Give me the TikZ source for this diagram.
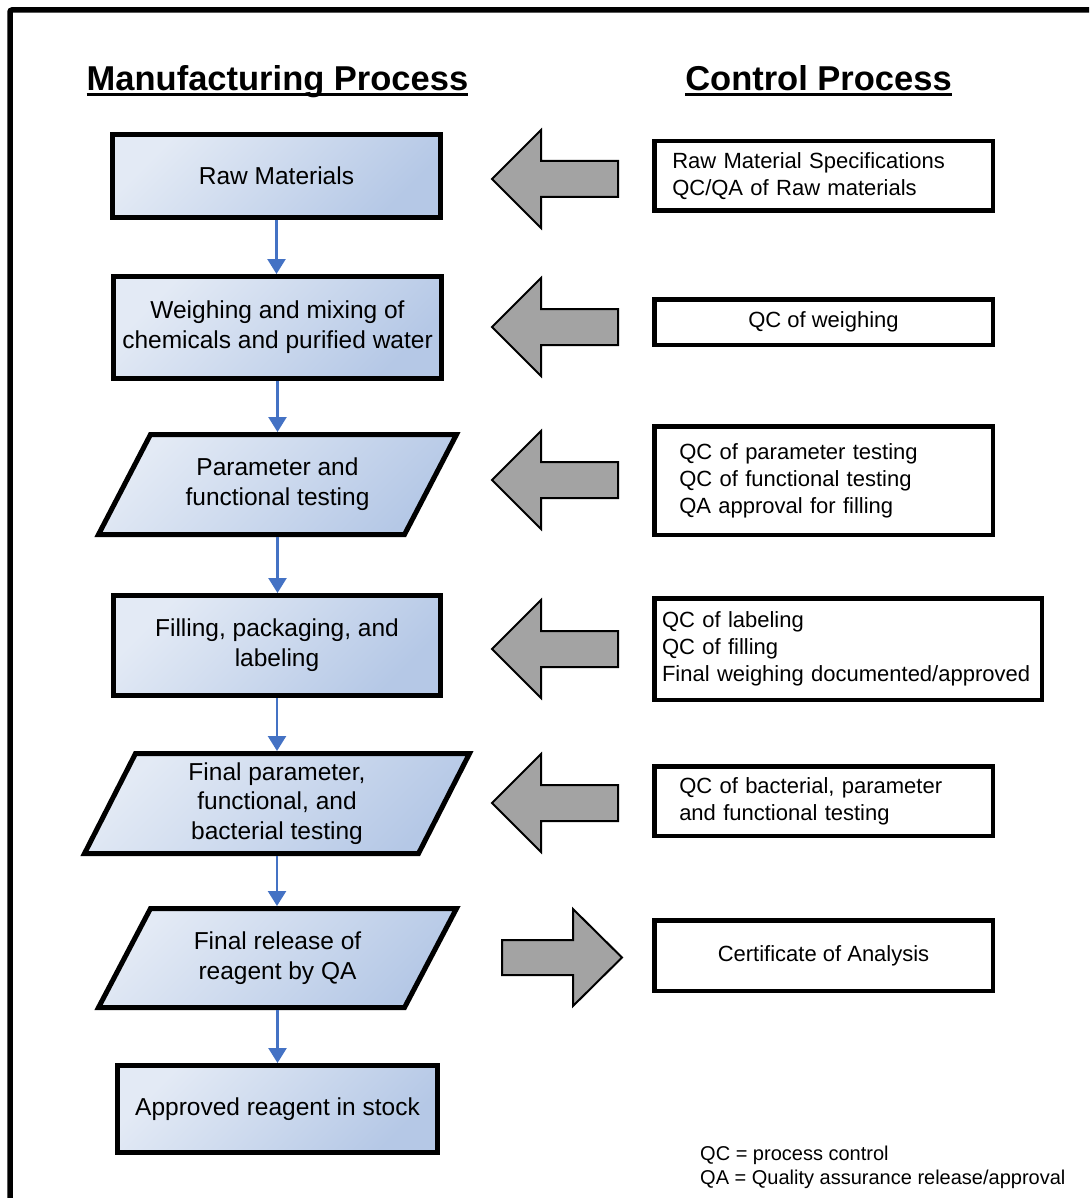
\documentclass[tikz,border=0pt]{standalone}
\usepackage{fontspec}
\setmainfont{Liberation Sans}
\usetikzlibrary{arrows.meta,calc,backgrounds}
\definecolor{gradlight}{HTML}{E3EAF5}
\definecolor{graddark}{HTML}{B5C8E6}
\definecolor{flowblue}{RGB}{68,114,196}
\definecolor{arrowgray}{HTML}{A3A3A3}
\tikzset{
  procfill/.style={draw=black, line width=5pt, left color=gradlight, right color=graddark, shading angle=45},
  procbox/.style={procfill, align=center, inner sep=0pt, font=\fontsize{24.5}{29.7}\selectfont},
  partext/.style={align=center, inner sep=0pt, outer sep=0pt, font=\fontsize{24.5}{29.7}\selectfont},
  ctrlbox/.style={draw=black, line width=4.5pt, fill=white, inner ysep=0pt, font=\fontsize{22}{27}\selectfont},
  flow/.style={draw=flowblue, line width=2.5pt, -{Triangle[width=18pt,length=15pt]}},
  garrow/.style={draw=black, line width=2pt, fill=arrowgray, line join=miter},
  titletext/.style={font=\fontsize{34.5}{40}\selectfont\bfseries, inner sep=0pt, anchor=base},
}
\begin{document}
\begin{tikzpicture}[x=1pt,y=-1pt]
\useasboundingbox (0,0) rectangle (1089,1198);
\clip (0,0) rectangle (1089,1198);
\draw[line width=5.5pt, rounded corners=2pt] (10,1230) -- (10,10) -- (1120,10);

% titles
\node[titletext] (t1) at (277.5,91) {Manufacturing Process};
\node[titletext] (t2) at (818.5,91) {Control Process};
\draw[line width=3pt] ([yshift=-4pt]t1.base west) -- ([yshift=-4pt]t1.base east);
\draw[line width=3pt] ([yshift=-4pt]t2.base west) -- ([yshift=-4pt]t2.base east);

% process column
\node[procbox, minimum width=328pt, minimum height=83pt] (r1) at (276.5,176) {Raw Materials};
\node[procbox, minimum width=328pt, minimum height=102pt] (r2) at (277.5,327.5) {Weighing and mixing of\\chemicals and purified water};
\node[partext, minimum width=306pt, minimum height=100pt] (r3) at (277.5,484.5) {Parameter and\\functional testing};
\node[procbox, minimum width=327pt, minimum height=100pt] (r4) at (277,645.5) {Filling, packaging, and\\labeling};
\node[partext, minimum width=334pt, minimum height=100pt] (r5) at (277,803.5) {Final parameter,\\functional, and\\bacterial testing};
\node[partext, minimum width=306pt, minimum height=99pt] (r6) at (277.5,958) {Final release of\\reagent by QA};
\node[procbox, minimum width=320pt, minimum height=87pt] (r7) at (277.5,1109) {Approved reagent in stock};

\begin{pgfonlayer}{background}
\fill[white] (0,0) rectangle (1089,1198);
\foreach \n/\o in {r3/26,r5/25.5,r6/26}{
  \path[procfill] ($(\n.north west)+(\o,0)$) -- ($(\n.north east)+(\o,0)$) -- ($(\n.south east)+(-\o,0)$) -- ($(\n.south west)+(-\o,0)$) -- cycle;
}
\end{pgfonlayer}

\draw[flow] (r1.south) -- (r1.south |- r2.north);
\draw[flow, shorten >=2.5pt] (r2.south) -- (r2.south |- r3.north);
\draw[flow, shorten <=2.5pt] (r3.south) -- (r3.south |- r4.north);
\draw[flow, shorten >=2.5pt] (r4.south) -- (r4.south |- r5.north);
\draw[flow, shorten <=2.5pt, shorten >=2.5pt] (r5.south) -- (r5.south |- r6.north);
\draw[flow, shorten <=2.5pt] (r6.south) -- (r6.south |- r7.north);

% control column
\node[ctrlbox, minimum width=338.5pt, minimum height=69.5pt, text width=302.5pt, inner xsep=18pt, align=left] (c1) at (823.5,176) {Raw Material Specifications\\QC/QA of Raw materials};
\node[ctrlbox, minimum width=338.5pt, minimum height=45.5pt, align=center] (c2) at (823.5,322) {QC of weighing};
\node[ctrlbox, minimum width=338.5pt, minimum height=108.5pt, text width=288.5pt, inner xsep=25pt, align=left] (c3) at (823.5,480.5) {QC of parameter testing\\QC of functional testing\\QA approval for filling};
\node[ctrlbox, minimum width=387.5pt, minimum height=101.5pt, text width=372pt, inner xsep=7.75pt, align=left] (c4) at (848,649) {QC of labeling\\QC of filling\\Final weighing documented/approved};
\node[ctrlbox, minimum width=338.5pt, minimum height=69.5pt, text width=288.5pt, inner xsep=25pt, align=left] (c5) at (823.5,801) {QC of bacterial, parameter\\and functional testing};
\node[ctrlbox, minimum width=338.5pt, minimum height=70.5pt, align=center] (c6) at (823.5,955.5) {Certificate of Analysis};

% gray block arrows (control -> process)
\foreach \y in {179,327,480,649,803}{
  \draw[garrow] (618,{\y-18}) -- (541,{\y-18}) -- (541,{\y-49}) -- (492,\y) -- (541,{\y+49}) -- (541,{\y+18}) -- (618,{\y+18}) -- cycle;
}
% gray block arrow (process -> certificate)
\draw[garrow] (502,940) -- (573,940) -- (573,909) -- (622,957.5) -- (573,1006) -- (573,975) -- (502,975) -- cycle;

% legend
\node[anchor=west, align=left, inner sep=0pt, font=\fontsize{20}{24}\selectfont] (leg) at (700,1167) {QC = process control\\QA = Quality assurance release/approval};
\end{tikzpicture}
\end{document}
